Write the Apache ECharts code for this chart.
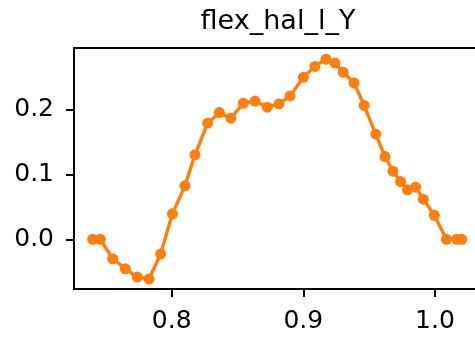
<!DOCTYPE html>
<html>
<head>
<meta charset="utf-8">
<script src="https://cdn.jsdelivr.net/npm/echarts@6/dist/echarts.min.js"></script>
<style>
html,body{margin:0;padding:0;background:#fff;}
#chart{width:475px;height:337px;}
</style>
</head>
<body>
<div id="chart"></div>
<script>
const titleText = "flex_hal_l_Y";
const xValues = [0.7400,0.7458,0.7552,0.7648,0.7739,0.7828,0.7916,0.8006,0.8101,0.8177,0.8273,0.8362,0.8450,0.8544,0.8633,0.8726,0.8815,0.8899,0.9000,0.9088,0.9172,0.9240,0.9303,0.9385,0.9462,0.9550,0.9620,0.9681,0.9739,0.9791,0.9853,0.9911,0.9995,1.0087,1.0165,1.0203];
const yValues = [0,0,-0.030,-0.0454,-0.0582,-0.0612,-0.0226,0.0392,0.0826,0.130,0.1788,0.1951,0.1865,0.2095,0.2128,0.2034,0.2085,0.2208,0.2495,0.2662,0.2774,0.2715,0.2572,0.2408,0.2062,0.1618,0.1274,0.1049,0.0888,0.0762,0.0803,0.0618,0.0369,0,0,0];
const xTicks = [0.8, 0.9, 1.0];
const yTicks = [0.0, 0.1, 0.2];

const seriesData = xValues.map((x, i) => [x, yValues[i]]);
const font = "DejaVu Sans";
const chart = echarts.init(document.getElementById('chart'), null, {renderer: 'canvas'});
chart.setOption({
  animation: false,
  backgroundColor: '#ffffff',
  title: {
    text: titleText,
    left: 278,
    top: 8,
    padding: 0,
    textAlign: 'center',
    textStyle: {fontFamily: font, fontSize: 27, fontWeight: 'normal', color: '#000'}
  },
  grid: {
    left: 74, width: 408, top: 48, height: 241,
    outerBoundsMode: 'none',
    containLabel: false,
    show: true, borderColor: '#000', borderWidth: 2, backgroundColor: 'transparent'
  },
  xAxis: {
    type: 'value',
    min: 0.7258, max: 1.0357,
    splitLine: {show: false},
    axisLine: {show: true, onZero: false, lineStyle: {color: '#000', width: 2}},
    axisTick: {show: true, length: 8, customValues: xTicks, lineStyle: {color: '#000', width: 2}},
    axisLabel: {customValues: xTicks, formatter: v => v.toFixed(1), fontFamily: font, fontSize: 25, color: '#000', margin: 20}
  },
  yAxis: {
    type: 'value',
    min: -0.0766, max: 0.2946,
    splitLine: {show: false},
    axisLine: {show: true, onZero: false, lineStyle: {color: '#000', width: 2}},
    axisTick: {show: true, length: 8, customValues: yTicks, lineStyle: {color: '#000', width: 2}},
    axisLabel: {customValues: yTicks, formatter: v => v.toFixed(1), fontFamily: font, fontSize: 25, color: '#000', margin: 20}
  },
  series: [{
    type: 'line',
    data: seriesData,
    color: '#ff7f0e',
    lineStyle: {width: 3.4, color: '#ff7f0e'},
    symbol: 'circle',
    symbolSize: 11,
    itemStyle: {color: '#ff7f0e'},
    clip: false
  }]
});
</script>
</body>
</html>
